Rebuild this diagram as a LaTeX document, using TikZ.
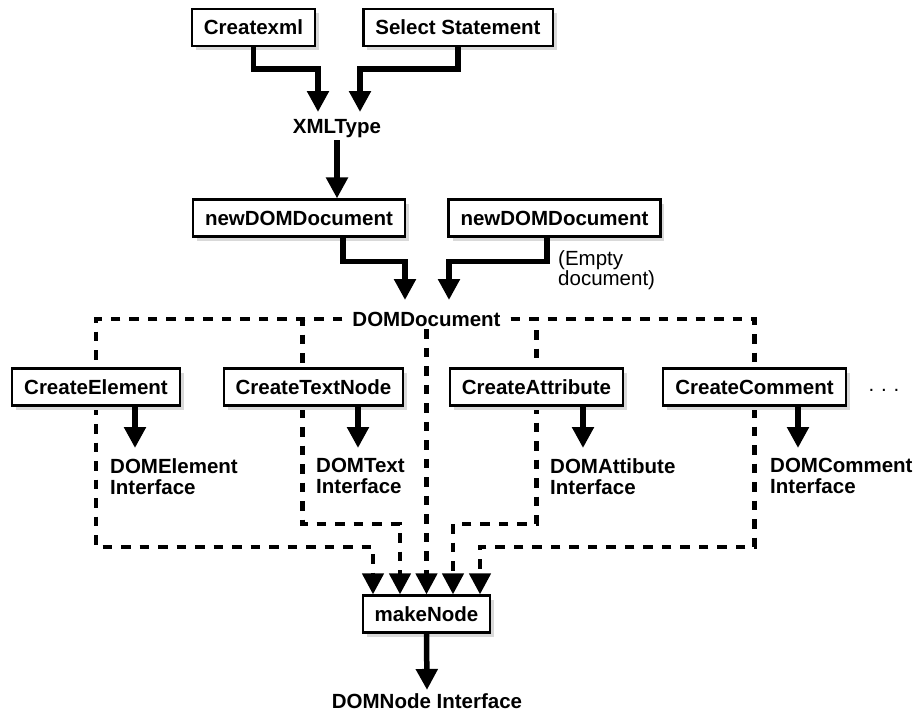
\documentclass[tikz,border=0pt]{standalone}
\usepackage{fontspec}
\setmainfont{Liberation Sans}
\usetikzlibrary{arrows.meta,shadows,backgrounds}
\tikzset{box/.style={draw,line width=2.2pt,fill=white,minimum height=37pt,inner xsep=12pt,inner ysep=0pt,
    font=\bfseries\fontsize{20.5}{21}\selectfont,
    drop shadow={fill=black!15,opacity=1,shadow xshift=4pt,shadow yshift=-4pt}},
  lbl/.style={inner sep=3pt,font=\bfseries\fontsize{20.5}{21}\selectfont},
  iface/.style={lbl,inner sep=0pt,anchor=north west,align=left},
  arr/.style={-{Triangle[length=21pt,width=21pt]},line width=5.5pt},
  dasharr/.style={arr,line width=4.5pt,dash pattern=on 9.5pt off 9pt}}
\begin{document}
\begin{tikzpicture}[x=1pt,y=-1pt]
\useasboundingbox (0,0) rectangle (916,713);
% sources of the XMLType
\node[box] (cx) at (253.5,27.5) {Createxml};
\node[box] (sel) at (458,27.5) {Select Statement};
\node[lbl,anchor=base] (xml) at (337,133) {XMLType};
\coordinate (x1) at (318,112);
\coordinate (x2) at (360,112);
\draw[arr] (cx.south) -- ++(0,22) -| (x1);
\draw[arr] (sel.south) -- ++(0,22) -| (x2);
% documents
\node[box] (nd1) at (299,218) {newDOMDocument};
\node[box] (nd2) at (554.5,218) {newDOMDocument};
\node[anchor=north west,inner sep=0pt,align=left,font=\fontsize{20.5}{18}\selectfont] (emp) at (558,250) {(Empty\\document)};
\draw[arr] (xml.south) -- (xml.south |- nd1.north);
\node[lbl,anchor=base,inner xsep=10pt] (doc) at (426.5,326) {DOMDocument};
\coordinate (d1) at (405,300);
\coordinate (d2) at (449,300);
\draw[arr] ([xshift=44pt]nd1.south) -- ++(0,24) -| (d1);
\draw[arr] ([xshift=-7.5pt]nd2.south) -- ++(0,24) -| (d2);
% create methods
\node[box] (ce) at (96,387) {CreateElement};
\node[box] (ct) at (313.5,387) {CreateTextNode};
\node[box] (ca) at (536.5,387) {CreateAttribute};
\node[box] (cm) at (754.5,387) {CreateComment};
\node[font=\fontsize{20.5}{21}\selectfont] (dots) at (884,390) {.\,\,.\,\,.};
\node[iface] (el) at (110,458) {DOMElement\\Interface};
\node[iface] (tl) at (316,458) {DOMText\\Interface};
\node[iface] (al) at (550,458) {DOMAttibute\\Interface};
\node[iface] (cl) at (770,458) {DOMComment\\Interface};
\coordinate (t1) at (135,448);
\coordinate (t2) at (358,448);
\coordinate (t3) at (583,448);
\coordinate (t4) at (798,448);
\draw[arr] (ce.south -| t1) -- (t1);
\draw[arr] (ct.south -| t2) -- (t2);
\draw[arr] (ca.south -| t3) -- (t3);
\draw[arr] (cm.south -| t4) -- (t4);
% makeNode
\node[box] (mk) at (426.5,614) {makeNode};
\node[lbl,anchor=base] (dn) at (427,708) {DOMNode Interface};
\draw[arr] (mk.south) -- (dn.north);
\coordinate (j1) at (373,547);
\coordinate (j2) at (400,524);
\coordinate (j4) at (453,524);
\coordinate (j5) at (480,547);
\begin{scope}[on background layer]
\draw[dasharr] (doc.west) -| (ce.north) -- (ce.south) |- (j1) -- (j1 |- mk.north);
\draw[dasharr] (doc.west) -| ([xshift=-11pt]ct.north) -- ([xshift=-11pt]ct.south) |- (j2) -- (j2 |- mk.north);
\draw[dasharr] (doc.south) -- (doc.south |- mk.north);
\draw[dasharr] (doc.east) -| (ca.north) -- (ca.south) |- (j4) -- (j4 |- mk.north);
\draw[dasharr] (doc.east) -| (cm.north) -- (cm.south) |- (j5) -- (j5 |- mk.north);
\end{scope}
\end{tikzpicture}
\end{document}
